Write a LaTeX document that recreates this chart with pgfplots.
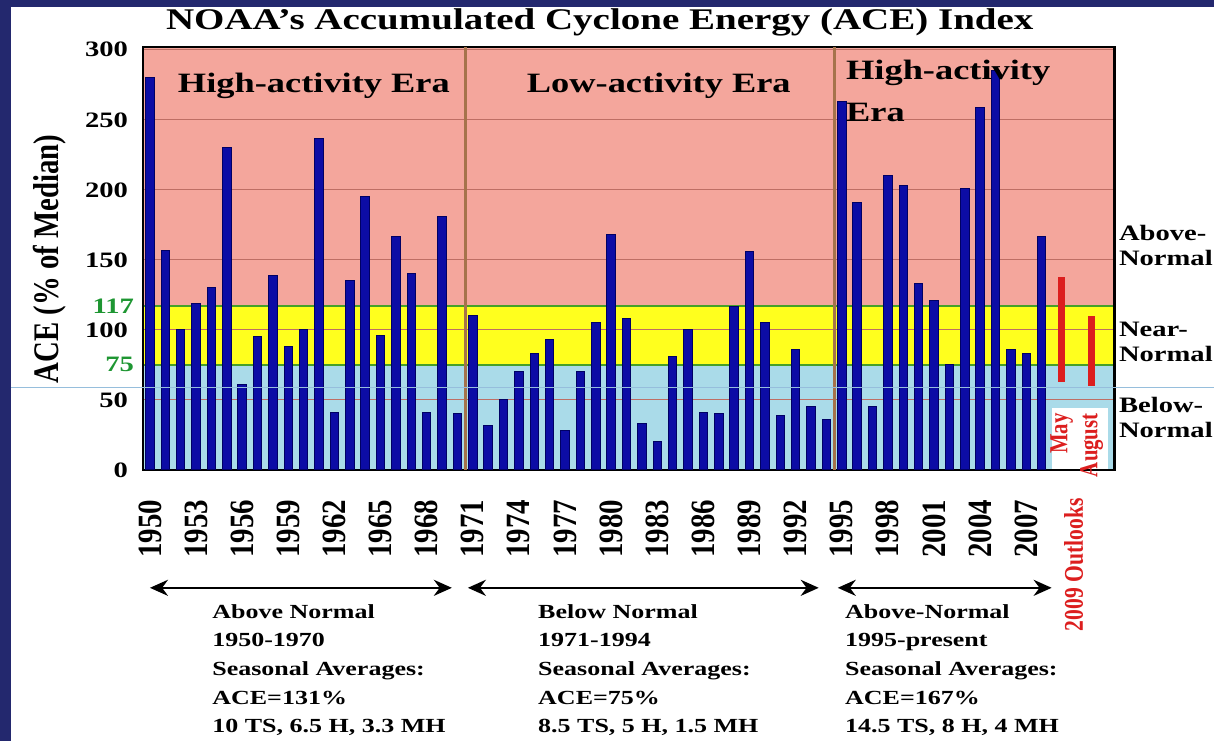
\documentclass[border=0pt]{standalone}
\usepackage{fontspec}
\setmainfont{Liberation Serif}[FakeStretch=1.3]
\newfontfamily\rotfont{Liberation Serif}[FakeStretch=0.8]
\newfontfamily\yearfont{Liberation Serif}[FakeStretch=0.85]
\usepackage{pgfplots}
\pgfplotsset{compat=1.18}
\usetikzlibrary{arrows.meta}
\definecolor{salmon}{RGB}{244,166,156}
\definecolor{yelband}{RGB}{255,255,30}
\definecolor{bluband}{RGB}{170,219,233}
\definecolor{gridc}{RGB}{190,110,100}
\definecolor{greenl}{RGB}{70,160,40}
\definecolor{greent}{RGB}{30,150,50}
\definecolor{sepc}{RGB}{165,115,75}
\definecolor{barfill}{RGB}{12,12,165}
\definecolor{bardraw}{RGB}{0,0,100}
\definecolor{outred}{RGB}{220,30,30}
\definecolor{navy}{RGB}{35,40,110}
\definecolor{artline}{RGB}{150,190,220}
\begin{document}
\begin{tikzpicture}
\begin{scope}[x=0.5pt,y=-0.5pt]
\path[use as bounding box] (0,0) rectangle (1214,741);
\fill[navy] (0,0) rectangle (11,741);
\fill[navy] (0,0) rectangle (1214,7);
\end{scope}
\begin{axis}[at={(71.5pt,-235pt)}, anchor=south west,
  width=486pt, height=211.5pt, scale only axis,
  xmin=1949.55, xmax=2012.75, ymin=0, ymax=302,
  set layers,
  axis line style={line width=1.2pt, black},
  ytick={0,50,100,150,200,250,300},
  ymajorgrids, grid style={gridc, line width=0.6pt},
  extra y ticks={75,117},
  extra y tick style={grid style={greenl, line width=1pt}, yticklabel style={text=greent, xshift=3pt}},
  xtick={1950,1953,...,2007},
  xticklabels={1950,1953,1956,1959,1962,1965,1968,1971,1974,1977,1980,1983,1986,1989,1992,1995,1998,2001,2004,2007},
  major tick length=0pt,
  /pgf/number format/assume math mode=true,
  yticklabel style={font=\bfseries\fontsize{11}{12}\selectfont, xshift=-4pt},
  xticklabel style={font=\yearfont\bfseries\fontsize{17}{17}\selectfont, rotate=90, anchor=east},
  xticklabel shift=11.5pt,
  clip=false,
]
\begin{pgfonlayer}{axis background}
\fill[bluband] (axis cs:1949.55,0) rectangle (axis cs:2012.75,75);
\fill[yelband] (axis cs:1949.55,75) rectangle (axis cs:2012.75,117);
\fill[salmon] (axis cs:1949.55,117) rectangle (axis cs:2012.75,302);
\fill[white] (axis cs:2008.7,0) rectangle (axis cs:2012.35,44);
\end{pgfonlayer}
\draw[sepc, line width=1.5pt] (axis cs:1970.5,0) -- (axis cs:1970.5,302);
\draw[sepc, line width=1.5pt] (axis cs:1994.5,0) -- (axis cs:1994.5,302);
\addplot[ybar, bar width=0.55, fill=barfill, draw=bardraw, line width=0.4pt] coordinates {
(1950,280) (1951,157) (1952,100) (1953,119) (1954,130) (1955,230) (1956,61) (1957,95) (1958,139) (1959,88)
(1960,100) (1961,237) (1962,41) (1963,135) (1964,195) (1965,96) (1966,167) (1967,140) (1968,41) (1969,181)
(1970,40) (1971,110) (1972,32) (1973,50) (1974,70) (1975,83) (1976,93) (1977,28) (1978,70) (1979,105)
(1980,168) (1981,108) (1982,33) (1983,20) (1984,81) (1985,100) (1986,41) (1987,40) (1988,117) (1989,156)
(1990,105) (1991,39) (1992,86) (1993,45) (1994,36) (1995,263) (1996,191) (1997,45) (1998,210) (1999,203)
(2000,133) (2001,121) (2002,75) (2003,201) (2004,259) (2005,285) (2006,86) (2007,83) (2008,167)
};
\addplot[outred, line width=3.4pt] coordinates {(2009.3,63) (2009.3,138)};
\addplot[outred, line width=3.4pt] coordinates {(2011.25,60) (2011.25,110)};
\node[rotate=90, anchor=east, text=outred, font=\rotfont\bfseries\fontsize{13}{13}\selectfont, inner sep=1pt] at (axis cs:2009.3,42) {May};
\node[rotate=90, anchor=east, text=outred, font=\rotfont\bfseries\fontsize{13}{13}\selectfont, inner sep=1pt] at (axis cs:2011.25,42) {August};
\end{axis}
\begin{scope}[x=0.5pt,y=-0.5pt]
\draw[artline, line width=0.4pt] (11,388) -- (1214,388);
\node[font=\bfseries\fontsize{15}{18}\selectfont] at (600,22) {NOAA's Accumulated Cyclone Energy (ACE) Index};
\node[font=\bfseries\fontsize{14}{16}\selectfont] at (314,86) {High-activity Era};
\node[font=\bfseries\fontsize{14}{16}\selectfont] at (659,86) {Low-activity Era};
\node[font=\bfseries\fontsize{14}{16}\selectfont, anchor=west, inner sep=0pt] at (846,73) {High-activity};
\node[font=\bfseries\fontsize{14}{16}\selectfont, anchor=west, inner sep=0pt] at (846,112) {Era};
\node[font=\bfseries\fontsize{11}{12.5}\selectfont, anchor=west, align=left, inner sep=0pt] at (1119,246) {Above-\\Normal};
\node[font=\bfseries\fontsize{11}{12.5}\selectfont, anchor=west, align=left, inner sep=0pt] at (1119,342) {Near-\\Normal};
\node[font=\bfseries\fontsize{11}{12.5}\selectfont, anchor=west, align=left, inner sep=0pt] at (1119,418) {Below-\\Normal};
\node[rotate=90, font=\rotfont\bfseries\fontsize{18}{18}\selectfont] at (50,259) {ACE (\% of Median)};
\node[rotate=90, text=outred, font=\rotfont\bfseries\fontsize{13.5}{14}\selectfont] at (1074,565) {2009 Outlooks};
\draw[{Stealth[length=9pt,width=8pt]}-{Stealth[length=9pt,width=8pt]}, line width=1.3pt] (150,588) -- (452,588);
\draw[{Stealth[length=9pt,width=8pt]}-{Stealth[length=9pt,width=8pt]}, line width=1.3pt] (468,588) -- (819,588);
\draw[{Stealth[length=9pt,width=8pt]}-{Stealth[length=9pt,width=8pt]}, line width=1.3pt] (838,588) -- (1052,588);
\node[font=\bfseries\fontsize{10}{14.35}\selectfont, anchor=north west, align=left, inner sep=0pt] at (212,604) {Above Normal\\1950-1970\\Seasonal Averages:\\ACE=131\%\\10 TS, 6.5 H, 3.3 MH};
\node[font=\bfseries\fontsize{10}{14.35}\selectfont, anchor=north west, align=left, inner sep=0pt] at (538,604) {Below Normal\\1971-1994\\Seasonal Averages:\\ACE=75\%\\8.5 TS, 5 H, 1.5 MH};
\node[font=\bfseries\fontsize{10}{14.35}\selectfont, anchor=north west, align=left, inner sep=0pt] at (845,604) {Above-Normal\\1995-present\\Seasonal Averages:\\ACE=167\%\\14.5 TS, 8 H, 4 MH};
\end{scope}
\end{tikzpicture}
\end{document}
